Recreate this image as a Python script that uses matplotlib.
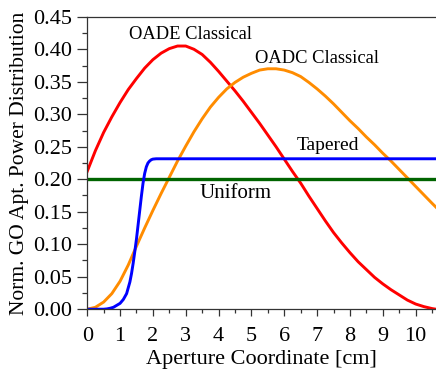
#!/usr/bin/env python3

import matplotlib
matplotlib.use("Agg")
import matplotlib.pyplot as plt
from matplotlib.ticker import MultipleLocator

plt.rcParams["font.family"] = ["Liberation Serif", "DejaVu Serif"]

# values
x_oade = [0.0, 0.25, 0.5, 0.75, 1.0, 1.25, 1.5, 1.75, 2.0, 2.25, 2.5, 2.75, 3.0,
          3.25, 3.5, 3.75, 4.0, 4.25, 4.5, 4.75, 5.0, 5.25, 5.5, 5.75, 6.0, 6.25,
          6.5, 6.75, 7.0, 7.25, 7.5, 7.75, 8.0, 8.25, 8.5, 8.75, 9.0, 9.25, 9.5,
          9.75, 10.0, 10.25, 10.5, 10.62]
y_oade = [0.212, 0.244, 0.272, 0.296, 0.318, 0.338, 0.355, 0.371, 0.384, 0.394,
          0.401, 0.405, 0.405, 0.400, 0.392, 0.380, 0.366, 0.351, 0.336, 0.320,
          0.303, 0.286, 0.268, 0.250, 0.231, 0.212, 0.194, 0.174, 0.155, 0.136,
          0.118, 0.102, 0.087, 0.073, 0.061, 0.049, 0.039, 0.030, 0.022, 0.014,
          0.008, 0.004, 0.001, 0.0]

x_oadc = [0.0, 0.25, 0.5, 0.75, 1.0, 1.25, 1.5, 1.75, 2.0, 2.25, 2.5, 2.75, 3.0,
          3.25, 3.5, 3.75, 4.0, 4.25, 4.5, 4.75, 5.0, 5.25, 5.5, 5.75, 6.0, 6.25,
          6.5, 6.75, 7.0, 7.25, 7.5, 7.75, 8.0, 8.25, 8.5, 8.75, 9.0, 9.25, 9.5,
          9.75, 10.0, 10.25, 10.5, 10.62]
y_oadc = [0.0, 0.003, 0.011, 0.024, 0.043, 0.068, 0.097, 0.125, 0.152, 0.178,
          0.203, 0.228, 0.251, 0.273, 0.293, 0.311, 0.326, 0.339, 0.349, 0.357,
          0.363, 0.368, 0.370, 0.370, 0.368, 0.364, 0.358, 0.349, 0.339, 0.328,
          0.316, 0.303, 0.290, 0.278, 0.265, 0.253, 0.240, 0.228, 0.215, 0.202,
          0.189, 0.176, 0.163, 0.157]

x_taper = [0.0, 0.5, 0.6, 0.7, 0.8, 0.9, 1.0, 1.1, 1.2, 1.3, 1.35, 1.4, 1.45,
           1.5, 1.55, 1.6, 1.65, 1.7, 1.75, 1.8, 1.85, 1.9, 1.95, 2.0, 2.1, 2.3,
           10.62]
y_taper = [0.0, 0.0, 0.0005, 0.0015, 0.003, 0.006, 0.009, 0.015, 0.024, 0.042,
           0.055, 0.071, 0.089, 0.108, 0.130, 0.152, 0.174, 0.194, 0.209, 0.219,
           0.225, 0.228, 0.230, 0.231, 0.2315, 0.2315, 0.2315]

x_unif = [0.0, 10.62]
y_unif = [0.2, 0.2]

fig = plt.figure(figsize=(4.36, 3.73), dpi=100)
ax = fig.add_axes([0.200, 0.171, 0.800, 0.784])

ax.plot(x_oade, y_oade, "-", color="#ff0000", linewidth=2.1)
ax.plot(x_oadc, y_oadc, "-", color="#ff8c00", linewidth=2.1)
ax.plot(x_unif, y_unif, "-", color="#006400", linewidth=2.4)
ax.plot(x_taper, y_taper, "-", color="#0000ff", linewidth=2.1)

ax.text(3.15, 0.423, "OADE Classical", fontsize=13.3, ha="center", va="center")
ax.text(7.0, 0.386, "OADC Classical", fontsize=13.3, ha="center", va="center")
ax.text(7.33, 0.2515, "Tapered", fontsize=14, ha="center", va="center")
ax.text(4.52, 0.178, "Uniform", fontsize=15, ha="center", va="center")

ax.set_xlim(0, 10.62)
ax.set_ylim(0, 0.45)
ax.xaxis.set_major_locator(MultipleLocator(1))
ax.xaxis.set_minor_locator(MultipleLocator(0.5))
ax.yaxis.set_major_locator(MultipleLocator(0.05))
ax.yaxis.set_minor_locator(MultipleLocator(0.025))
ax.yaxis.set_major_formatter(plt.FormatStrFormatter("%.2f"))

ax.tick_params(axis="both", which="both", direction="out", top=False, right=False,
               labelsize=16, width=0.9, color="#333333")
ax.tick_params(axis="y", which="major", length=7, pad=4)
ax.tick_params(axis="y", which="minor", length=3.5)
ax.tick_params(axis="x", which="major", length=5, pad=8)
ax.tick_params(axis="x", which="minor", length=3)
for s in ["left", "bottom", "top"]:
    ax.spines[s].set_linewidth(0.9)
    ax.spines[s].set_color("#333333")
ax.spines["right"].set_visible(False)

ax.set_xlabel("Aperture Coordinate [cm]", fontsize=16, labelpad=3)
ax.set_ylabel("Norm. GO Apt. Power Distribution", fontsize=15.5, labelpad=3)

fig.savefig("out.png", dpi=100)
